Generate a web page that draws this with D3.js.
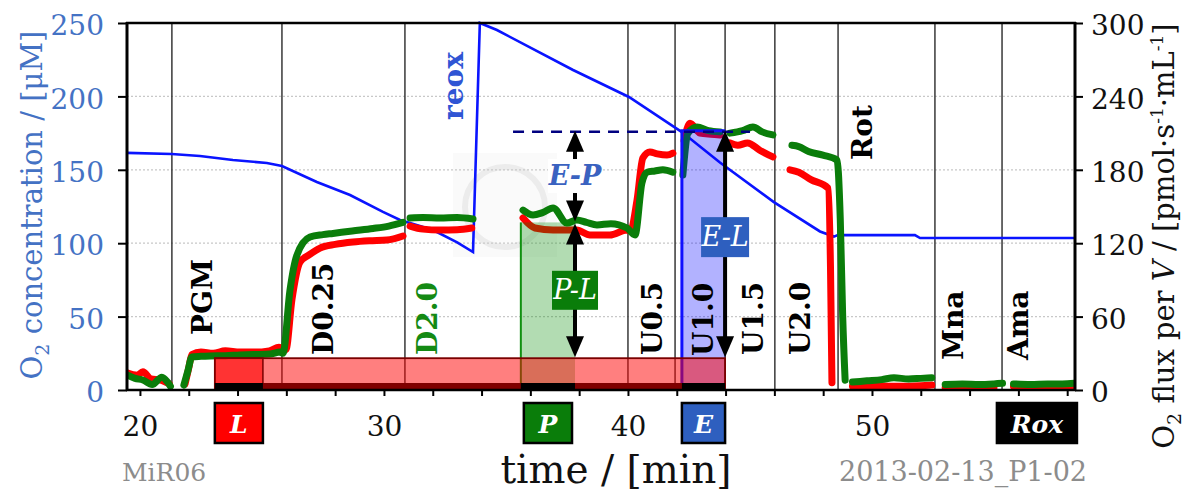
<!DOCTYPE html>
<html><head><meta charset="utf-8">
<script src="https://cdn.jsdelivr.net/npm/d3@7"></script>
<style>
html,body{margin:0;padding:0;background:#fff;}
svg{display:block;}
text{font-family:"DejaVu Serif",serif;}
</style></head><body>
<svg id="chart" width="1189" height="494"></svg>
<script>
// ---------------- data ----------------
const o2Conc = [[19.47,161.5],[21.3,160.8],[22.46,159.4],[23.81,156.7],[25.2,154.6],[25.82,152.6],[27.25,141.7],[28.61,132.8],[29.96,121.3],[30.66,115.8],[32.01,109],[33.0,100.5],[33.65,94],[33.93,250],[34.63,245.2],[37.75,218],[40.04,199.6],[42.21,175.7],[43.77,155],[45.98,128],[47.87,108],[48.44,104.5],[48.6,105.5],[51.76,105.5],[51.97,103.5],[58.32,103.5]];

const redFlux = [
  [[19.47,14],[19.9,12],[20.12,15],[20.45,9],[20.85,8],[21.2,5]],
  [[21.85,5],[22.0,18],[22.13,29],[22.5,31],[23.0,30],[23.5,32],[24.1,31],[24.7,31],[25.3,32],[25.7,35],[25.98,33],[26.23,74],[26.56,104.6],[26.9,110],[27.38,116],[28.0,119],[28.73,121],[29.4,122],[30.12,122.6],[30.78,125.9]],
  [[31.07,134],[31.6,131.5],[32.3,130.8],[33.0,131],[33.6,132.4]],
  [[35.7,140.6],[36.19,132.4],[36.93,130.8],[37.9,130.8],[38.44,126.7],[39.26,126.7],[39.96,130.8],[40.1,130],[40.37,155],[40.61,189.6],[40.9,194.6],[41.2,193],[41.6,192],[41.84,193.7]],
  [[42.3,204],[42.54,218],[42.95,210],[43.4,209],[43.77,208.5]],
  [[44.18,202],[44.5,200],[44.9,202],[45.4,196],[45.94,190.5]],
  [[46.64,180],[47.0,178],[47.5,172],[48.2,165],[48.3,100],[48.36,6]],
  [[49.2,3],[50.0,3.5],[51.0,3],[52.0,3.5],[52.45,4]],
  [[53.0,2],[53.7,1],[54.3,1.5],[55.0,2]],
  [[55.8,3],[56.5,2.5],[57.3,1],[57.8,3],[58.3,3]]
];

const greenFlux = [
  [[19.47,12.3],[19.8,9.5],[20.12,8.2],[20.5,4.5],[20.9,10.5],[21.15,6],[21.25,3]],
  [[21.8,4],[21.97,16],[22.13,27],[22.5,27.5],[22.87,27.8],[23.5,28],[24.1,28.6],[24.7,29],[25.33,29.4],[25.74,31],[25.86,30],[26.15,81.7],[26.43,110],[26.97,125],[27.5,127],[27.91,128],[28.7,130],[29.55,132],[30.2,134],[30.78,137]],
  [[31.07,140.6],[31.6,141],[32.3,140.6],[33.0,141],[33.65,139.8]],
  [[35.7,147],[36.11,143],[36.5,145],[36.93,148.8],[37.5,136.5],[37.9,139],[38.3,137],[38.73,134.9],[39.3,136],[39.96,132.4],[40.29,126.7],[40.57,169],[40.78,178],[41.1,179],[41.43,180],[41.84,178]],
  [[42.25,175.8],[42.46,210],[42.83,215],[43.3,212],[43.77,211]],
  [[44.18,210],[44.7,212],[45.12,215],[45.5,211],[45.94,208.5]],
  [[46.72,200],[47.0,199],[47.4,195],[47.99,192],[48.57,188],[48.7,140],[48.8,60],[48.9,8]],
  [[49.2,6.5],[49.8,7.5],[50.4,8.5],[50.9,10],[51.5,9],[52.0,9.5],[52.45,10]],
  [[53.0,4.5],[53.7,5],[54.4,4.5],[55.0,5],[55.35,5.5]],
  [[55.8,5],[56.5,4.5],[57.2,5],[57.8,5],[58.3,5.5]]
];

const eventTimes  = [21.31, 25.82, 30.86, 40.0, 41.93, 43.98, 46.02, 48.61, 52.58, 55.33];
const eventLabels = ["PGM", "D0.25", "D2.0", "U0.5", "U1.0", "U1.5", "U2.0", "Rot", "Mna", "Ama"];
const reoxTime = 33.24;

const markNames = ["L", "P", "E", "Rox"];
const markStart = [23.07, 35.61, 42.21, 55.12];
const markEnd   = [25.04, 37.83, 43.98, 58.4];

const levelNames = ["L", "P", "E"];
const levelFlux  = [26, 137, 212];

const leftTicks   = [0, 50, 100, 150, 200, 250];
const rightTicks  = [0, 60, 120, 180, 240, 300];
const bottomTicks = d3.range(20, 59, 2);
const bottomLabels = [20, 30, 40, 50];
const dashStart = 35.29, dashEnd = 45.0;

// ---------------- layout ----------------
const L = 127, R = 1075, T = 23, B = 390;
const svg = d3.select("#chart");
const x  = d3.scaleLinear().domain([19.47, 58.32]).range([L, R]);
const yL = d3.scaleLinear().domain([0, 250]).range([B, T]);
const yR = d3.scaleLinear().domain([0, 300]).range([B, T]);

svg.append("defs").append("clipPath").attr("id","clip")
  .append("rect").attr("x", L).attr("y", T-5).attr("width", R-L).attr("height", B-T+5);

// watermark (very faint)
svg.append("rect").attr("x",453).attr("y",153).attr("width",104).attr("height",104).attr("fill","#fafafa");
svg.append("circle").attr("cx",505).attr("cy",207).attr("r",40).attr("fill","none").attr("stroke","#ececec").attr("stroke-width",6);

// gridlines
svg.append("g").selectAll("line").data([50,100,150,200]).join("line")
  .attr("x1", L).attr("x2", R).attr("y1", d=>yL(d)).attr("y2", d=>yL(d))
  .attr("stroke","#c8c8c8").attr("stroke-width",1.3).attr("stroke-dasharray","2,2");

// event lines
svg.append("g").selectAll("line").data(eventTimes).join("line")
  .attr("x1", d=>x(d)).attr("x2", d=>x(d)).attr("y1", T).attr("y2", B)
  .attr("stroke","#2a2a2a").attr("stroke-width",1.4);

const plot = svg.append("g").attr("clip-path","url(#clip)");
// O2 concentration
plot.append("path").datum(o2Conc)
  .attr("d", d3.line().x(d=>x(d[0])).y(d=>yL(d[1])))
  .attr("fill","none").attr("stroke","#0a14ff").attr("stroke-width",2.6);

const fl = d3.line().x(d=>x(d[0])).y(d=>yR(d[1])).curve(d3.curveMonotoneX);
plot.append("g").selectAll("path").data(redFlux).join("path")
  .attr("d", fl).attr("fill","none").attr("stroke","#ff0000").attr("stroke-width",7)
  .attr("stroke-linecap","round").attr("stroke-linejoin","round");
plot.append("g").selectAll("path").data(greenFlux).join("path")
  .attr("d", fl).attr("fill","none").attr("stroke","#0a7d0a").attr("stroke-width",7)
  .attr("stroke-linecap","round").attr("stroke-linejoin","round");

// P and E rectangles
const iL = 0, iP = 1, iE = 2;
svg.append("rect").attr("x", x(markStart[iP])).attr("y", yR(levelFlux[iP]))
  .attr("width", x(markEnd[iP]) - x(markStart[iP])).attr("height", B - yR(levelFlux[iP]))
  .attr("fill","rgba(0,140,0,0.3)");
svg.append("line").attr("x1", x(markStart[iP])).attr("x2", x(markStart[iP]))
  .attr("y1", yR(levelFlux[iP])).attr("y2", B).attr("stroke","#109010").attr("stroke-width",2);
svg.append("rect").attr("x", x(markStart[iE])).attr("y", yR(levelFlux[iE]))
  .attr("width", x(markEnd[iE]) - x(markStart[iE])).attr("height", B - yR(levelFlux[iE]))
  .attr("fill","rgba(0,0,255,0.3)");
svg.append("path").attr("d", `M${x(markStart[iE])},${B}V${yR(levelFlux[iE])}H${x(markEnd[iE])}`)
  .attr("fill","none").attr("stroke","#1010ff").attr("stroke-width",3);

// red band
const bandTop = yR(levelFlux[iL]);
svg.append("rect").attr("x", x(markStart[iL])).attr("y", bandTop)
  .attr("width", x(markEnd[iE]) - x(markStart[iL])).attr("height", B - bandTop)
  .attr("fill","rgba(255,0,0,0.5)").attr("stroke","#7a0000").attr("stroke-width",1.8);
svg.append("rect").attr("x", x(markStart[iL])).attr("y", bandTop)
  .attr("width", x(markEnd[iL]) - x(markStart[iL])).attr("height", B - bandTop)
  .attr("fill","rgba(255,0,0,0.6)").attr("stroke","#7a0000").attr("stroke-width",1.5);
svg.append("rect").attr("x", x(markStart[iL])).attr("y", B-7)
  .attr("width", x(markEnd[iE]) - x(markStart[iL])).attr("height", 7).attr("fill","#800000");
svg.append("g").selectAll("rect").data([0,1,2]).join("rect")
  .attr("x", i=>x(markStart[i])).attr("y", B-7)
  .attr("width", i=>x(markEnd[i]) - x(markStart[i])).attr("height", 7).attr("fill","#000");

// dashed E level
svg.append("line").attr("x1", x(dashStart)).attr("x2", x(dashEnd))
  .attr("y1", yR(levelFlux[iE])+1).attr("y2", yR(levelFlux[iE])+1)
  .attr("stroke","#000080").attr("stroke-width",2.5).attr("stroke-dasharray","11,8");

// arrows
function head(g, cx, tip, dir){ // dir -1 = up, 1 = down
  const h = 21, w = 9;
  g.append("path").attr("d", `M${cx},${tip}L${cx-w},${tip - dir*h}L${cx+w},${tip - dir*h}Z`).attr("fill","#000");
}
function arrow(cx, yTop, yBot, label, frac, boxFill, txtFill, w, h, weight){
  const g = svg.append("g");
  g.append("line").attr("x1",cx).attr("x2",cx).attr("y1",yTop+10).attr("y2",yBot-10)
    .attr("stroke","#000").attr("stroke-width",4);
  head(g, cx, yTop, -1);
  head(g, cx, yBot, 1);
  const cy = yTop + frac*(yBot-yTop);
  g.append("rect").attr("x", cx - w/2).attr("y", cy - h/2).attr("width", w).attr("height", h).attr("fill", boxFill);
  g.append("text").attr("x", cx).attr("y", cy + 9).attr("text-anchor","middle")
    .attr("font-style","italic").attr("font-weight", weight).attr("font-size", 27).attr("fill", txtFill).text(label);
}
const xP = x(markEnd[iP]), xE = x(markEnd[iE]);
const yEl = yR(levelFlux[iE]), yPl = yR(levelFlux[iP]), yLl = yR(levelFlux[iL]);
arrow(xP, yEl, yPl - 1, "E-P", 0.5, "#ffffff", "#3a62c0", 54, 34, "bold");
arrow(xP, yPl + 1, yLl - 1, "P-L", 0.5, "#0a7d0a", "#ffffff", 46, 39, "normal");
arrow(xE, yEl, yLl - 1, "E-L", 0.47, "#2e5fbf", "#ffffff", 48, 40, "normal");

// axes
const axL = svg.append("g").attr("transform",`translate(${L},0)`)
  .call(d3.axisLeft(yL).tickValues(leftTicks).tickSize(9).tickPadding(14));
const axR = svg.append("g").attr("transform",`translate(${R},0)`)
  .call(d3.axisRight(yR).tickValues(rightTicks).tickSize(8).tickPadding(8));
const axB = svg.append("g").attr("transform",`translate(0,${B})`)
  .call(d3.axisBottom(x).tickValues(bottomTicks).tickSize(6)
    .tickFormat(d => bottomLabels.includes(d) ? d : ""));
[axL, axR, axB].forEach(a => { a.select(".domain").remove(); a.selectAll("line").attr("stroke","#000").attr("stroke-width",2); });
axL.selectAll("text").attr("font-size",28).attr("fill","#4472c4").attr("font-family","DejaVu Serif").attr("dy","0.42em");
axR.selectAll("text").attr("font-size",28).attr("fill","#111").attr("font-family","DejaVu Serif").attr("dy","0.42em");
axB.selectAll("text").attr("font-size",28).attr("fill","#111").attr("font-family","DejaVu Serif").attr("y",26).attr("dy","0.71em");

// frame
svg.append("line").attr("x1",L-1).attr("x2",R+1).attr("y1",T).attr("y2",T).attr("stroke","#000").attr("stroke-width",2.5);
svg.append("line").attr("x1",L-1).attr("x2",R+1).attr("y1",B).attr("y2",B).attr("stroke","#000").attr("stroke-width",2.5);
svg.append("line").attr("x1",L).attr("x2",L).attr("y1",T-1).attr("y2",B+1).attr("stroke","#000").attr("stroke-width",3);
svg.append("line").attr("x1",R).attr("x2",R).attr("y1",T-1).attr("y2",B+1).attr("stroke","#000").attr("stroke-width",3);

// event labels
const labDx = [40, 51, 32, 34, 38, 38, 35, 34, 28, 26];
const labY  = [335, 355, 355, 355, 356, 355, 355, 160, 360, 360];
svg.append("g").selectAll("text").data(eventLabels).join("text")
  .attr("transform", (d,i)=>`translate(${x(eventTimes[i]) + labDx[i]},${labY[i]}) rotate(-90)`)
  .attr("font-weight","bold").attr("font-size",28)
  .attr("fill", d => d === "D2.0" ? "#148a14" : "#000").text(d=>d);
svg.append("text").attr("transform", `translate(${x(reoxTime)},120) rotate(-90)`)
  .attr("font-weight","bold").attr("font-size",28).attr("fill","#2f55d4").text("reox");

// mark boxes
const boxFill = ["#ff0000", "#0a7d0a", "#2e5fbf", "#000"];
const bx = svg.append("g").selectAll("g").data(markNames).join("g");
bx.append("rect").attr("x",(d,i)=>x(markStart[i]) + (d==="P"?3:0)).attr("y",403)
  .attr("width",(d,i)=>x(markEnd[i]) - x(markStart[i]) - (d==="P"?6:0)).attr("height",40)
  .attr("fill",(d,i)=>boxFill[i]).attr("stroke","#000").attr("stroke-width",2.5);
bx.append("text").attr("x",(d,i)=>(x(markStart[i])+x(markEnd[i]))/2).attr("y",433)
  .attr("text-anchor","middle").attr("font-weight","bold").attr("font-style","italic")
  .attr("font-size",25).attr("fill","#fff").text(d=>d);

// titles
const tl = svg.append("text").attr("transform","translate(42,205) rotate(-90)")
  .attr("text-anchor","middle").attr("font-size",29).attr("fill","#4472c4");
tl.append("tspan").text("O");
tl.append("tspan").attr("font-size",19).attr("dy",7).text("2");
tl.append("tspan").attr("dy",-7).text(" concentration / [μM]");

const tr = svg.append("text").attr("transform","translate(1174,236) rotate(-90)")
  .attr("text-anchor","middle").attr("font-size",29).attr("fill","#111");
tr.append("tspan").text("O");
tr.append("tspan").attr("font-size",19).attr("dy",7).text("2");
tr.append("tspan").attr("dy",-7).text(" flux per ");
tr.append("tspan").attr("font-style","italic").text("V");
tr.append("tspan").text(" / [pmol·s");
tr.append("tspan").attr("font-size",17).attr("dy",-11).text("-1");
tr.append("tspan").attr("dy",11).text("·mL");
tr.append("tspan").attr("font-size",17).attr("dy",-11).text("-1");
tr.append("tspan").attr("dy",11).text("]");

svg.append("text").attr("x",616).attr("y",483).attr("text-anchor","middle")
  .attr("font-size",39).attr("fill","#111").text("time / [min]");
svg.append("text").attr("x",122).attr("y",481).attr("font-size",25).attr("fill","#8c8c8c").text("MiR06");
svg.append("text").attr("x",1087).attr("y",481).attr("text-anchor","end").attr("font-size",27).attr("fill","#8c8c8c").text("2013-02-13_P1-02");
</script>
</body></html>
